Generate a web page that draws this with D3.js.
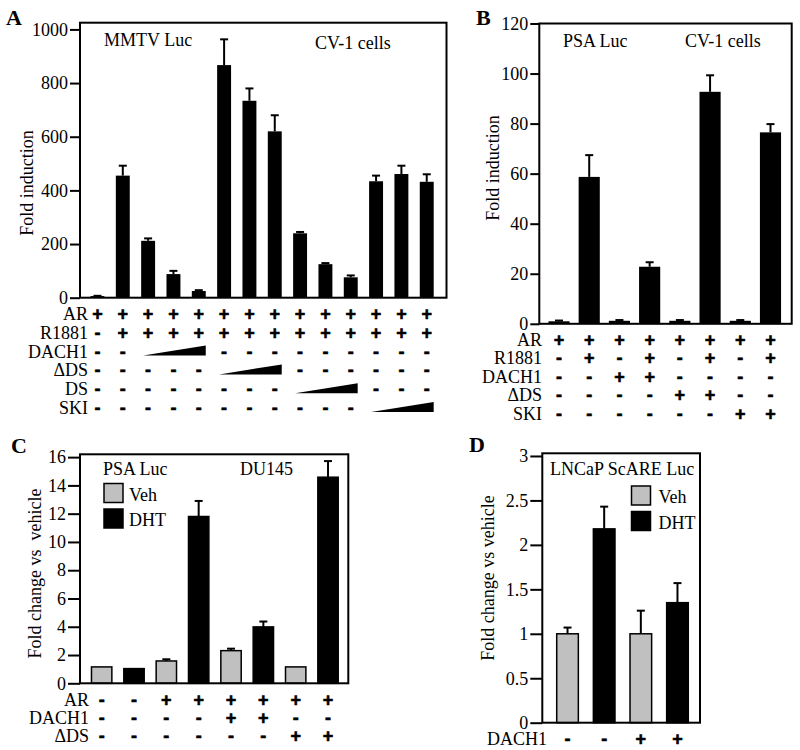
<!DOCTYPE html>
<html><head><meta charset="utf-8">
<script src="https://cdn.jsdelivr.net/npm/d3@7"></script>
<style>
body{margin:0;background:#fff;}
svg{display:block;}
text{font-family:"Liberation Serif","Times New Roman",serif;fill:#000;}
.sym{font-family:"Liberation Sans",Arial,sans-serif;font-weight:bold;stroke:#000;stroke-width:0.6px;}
</style></head>
<body>
<svg id="chart" width="800" height="750"></svg>
<script>
// ---------------- DATA ----------------
// Panel A: MMTV Luc, CV-1 cells
const A_categories = d3.range(1, 15).map(String);
const A_values = [6, 455, 212, 88, 25, 867, 734, 620, 240, 125, 76, 434, 461, 432];
const A_errors = [1, 37, 9, 12, 3, 96, 46, 60, 5, 4, 7, 21, 31, 28];
const A_ticks = [0, 200, 400, 600, 800, 1000];
const A_rowLabels = ["AR", "R1881", "DACH1", "\u0394DS", "DS", "SKI"];
const A_rows = [
  "++++++++++++++",
  "-+++++++++++++",
  "--www---------",
  "-----www------",
  "--------www---",
  "-----------www"
];
// Panel B: PSA Luc, CV-1 cells
const B_categories = d3.range(1, 9).map(String);
const B_values = [1.0, 58.7, 1.2, 22.8, 1.2, 92.7, 1.2, 76.5];
const B_errors = [0.3, 8.7, 0.3, 1.8, 0.3, 6.6, 0.3, 3.3];
const B_ticks = [0, 20, 40, 60, 80, 100, 120];
const B_rowLabels = ["AR", "R1881", "DACH1", "\u0394DS", "SKI"];
const B_rows = [
  "++++++++",
  "-+-+-+-+",
  "--++----",
  "----++--",
  "------++"
];
// Panel C: PSA Luc, DU145
const C_categories = d3.range(1, 9).map(String);
const C_series = ["Veh", "DHT", "Veh", "DHT", "Veh", "DHT", "Veh", "DHT"];
const C_values = [1.16, 1.04, 1.58, 11.8, 2.31, 3.99, 1.16, 14.58];
const C_errors = [0, 0, 0.12, 1.1, 0.14, 0.38, 0, 1.14];
const C_ticks = [0, 2, 4, 6, 8, 10, 12, 14, 16];
const C_rowLabels = ["AR", "DACH1", "\u0394DS"];
const C_rows = [
  "--++++++",
  "----++--",
  "------++"
];
// Panel D: LNCaP ScARE Luc
const D_categories = ["1", "2", "3", "4"];
const D_series = ["Veh", "DHT", "Veh", "DHT"];
const D_values = [1.0, 2.18, 1.0, 1.35];
const D_errors = [0.07, 0.25, 0.26, 0.22];
const D_ticks = [0, 0.5, 1, 1.5, 2, 2.5, 3];
const D_tickLabels = ["0", "0.5", "1", "1.5", "2", "2.5", "3"];
const D_rowLabels = ["DACH1"];
const D_rows = ["--++"];

const seriesNames = ["Veh", "DHT"];
const seriesColors = ["#c0c0c0", "#000000"];

// ---------------- DRAW ----------------
const svg = d3.select("#chart");
const color = d3.scaleOrdinal().domain(seriesNames).range(seriesColors);

function panel(cfg) {
  const g = svg.append("g");
  const y = d3.scaleLinear().domain([0, cfg.ymax]).range([cfg.bottom, cfg.top]);
  const x = d3.scaleBand().domain(cfg.categories).range(cfg.xRange)
    .paddingInner(cfg.pad).paddingOuter(cfg.pad / 2);
  const bw = x.bandwidth();
  const rows = cfg.values.map((v, i) => ({ cat: cfg.categories[i], v: v, e: cfg.errors[i], s: cfg.series ? cfg.series[i] : null }));

  // bars
  g.selectAll("rect.bar").data(rows).enter().append("rect")
    .attr("x", d => x(d.cat))
    .attr("y", d => y(d.v))
    .attr("width", bw)
    .attr("height", d => y(0) - y(d.v))
    .attr("fill", d => d.s ? color(d.s) : "#000")
    .attr("stroke", "#000")
    .attr("stroke-width", cfg.series ? 1.5 : 0);

  // error bars (upper only)
  const eg = g.selectAll("g.err").data(rows.filter(d => d.e > 0)).enter().append("g");
  eg.append("line")
    .attr("x1", d => x(d.cat) + bw / 2).attr("x2", d => x(d.cat) + bw / 2)
    .attr("y1", d => y(d.v)).attr("y2", d => y(d.v + d.e))
    .attr("stroke", "#000").attr("stroke-width", 2);
  eg.append("line")
    .attr("x1", d => x(d.cat) + bw / 2 - cfg.cap).attr("x2", d => x(d.cat) + bw / 2 + cfg.cap)
    .attr("y1", d => y(d.v + d.e)).attr("y2", d => y(d.v + d.e))
    .attr("stroke", "#000").attr("stroke-width", 2);

  // frame
  g.append("rect").attr("x", cfg.frameL).attr("y", cfg.top)
    .attr("width", cfg.frameR - cfg.frameL).attr("height", cfg.bottom - cfg.top)
    .attr("fill", "none").attr("stroke", "#000").attr("stroke-width", 2);

  // axis
  const axis = d3.axisLeft(y).tickValues(cfg.ticks).tickSize(cfg.tickSize).tickPadding(2)
    .tickFormat((d, i) => cfg.tickLabels ? cfg.tickLabels[i] : String(d));
  const ag = g.append("g").attr("transform", `translate(${cfg.frameL},0)`).call(axis);
  ag.select(".domain").remove();
  ag.selectAll(".tick line").attr("stroke", "#000").attr("stroke-width", 2);
  ag.selectAll(".tick text").attr("font-size", 18).attr("fill", "#000")
    .style("font-family", '"Liberation Serif","Times New Roman",serif');

  // y label
  g.append("text").attr("transform", `translate(${cfg.ylabX},${cfg.ylabY}) rotate(-90)`)
    .attr("text-anchor", "middle").attr("font-size", cfg.ylabSize || 18)
    .style("white-space", "pre").text(cfg.ylabel);

  // panel letter
  g.append("text").attr("x", cfg.letterX).attr("y", cfg.letterY)
    .attr("font-size", 22).attr("font-weight", "bold").text(cfg.letter);

  // annotation texts
  cfg.notes.forEach(n => g.append("text").attr("x", n[1]).attr("y", n[2])
    .attr("font-size", 18).text(n[0]));

  // condition rows
  cfg.rowLabels.forEach((lab, r) => {
    const base = cfg.rowY + r * cfg.rowStep;
    g.append("text").attr("x", cfg.rowLabelX).attr("y", base)
      .attr("text-anchor", "end").attr("font-size", 18).text(lab);
    const spec = cfg.rows[r];
    spec.split("").forEach((c, j) => {
      if (c === "w") return;
      g.append("text").attr("class", "sym")
        .attr("x", x(cfg.categories[j]) + bw / 2).attr("y", base)
        .attr("text-anchor", "middle").attr("font-size", 18).text(c);
    });
    const from = spec.indexOf("w"), to = spec.lastIndexOf("w");
    if (from >= 0) {
      const left = x(cfg.categories[from]) + 2;
      const right = x(cfg.categories[to]) + bw;
      g.append("polygon")
        .attr("points", [[left, base - 2], [right, base - 2], [right, base - 12]].map(p => p.join(",")).join(" "))
        .attr("fill", "#000");
    }
  });

  // legend
  if (cfg.legend) {
    seriesNames.forEach((s, i) => {
      const ly = cfg.legend.y + i * cfg.legend.step;
      g.append("rect").attr("x", cfg.legend.x).attr("y", ly)
        .attr("width", 19).attr("height", 19)
        .attr("fill", color(s)).attr("stroke", "#000").attr("stroke-width", 1.5);
      g.append("text").attr("x", cfg.legend.x + cfg.legend.tx).attr("y", ly + 17)
        .attr("font-size", 18).text(s);
    });
  }
}

panel({
  categories: A_categories, values: A_values, errors: A_errors, ticks: A_ticks,
  ymax: 1025, top: 22.7, bottom: 297.7, frameL: 80, frameR: 446.5,
  xRange: [84.8, 439.4], pad: 0.45, cap: 4, tickSize: 10,
  ylabel: "Fold induction", ylabX: 33, ylabY: 183,
  letter: "A", letterX: 6, letterY: 25,
  notes: [["MMTV Luc", 104, 45.5], ["CV-1 cells", 315, 48.5]],
  rowLabels: A_rowLabels, rows: A_rows, rowY: 320, rowStep: 18.8, rowLabelX: 88
});

panel({
  categories: B_categories, values: B_values, errors: B_errors, ticks: B_ticks,
  ymax: 120, top: 23.5, bottom: 323.8, frameL: 539.3, frameR: 791.7,
  xRange: [543.9, 785.6], pad: 0.3, cap: 4, tickSize: 9,
  ylabel: "Fold induction", ylabX: 499, ylabY: 168,
  letter: "B", letterX: 476, letterY: 25,
  notes: [["PSA Luc", 563, 46.5], ["CV-1 cells", 685, 46.5]],
  rowLabels: B_rowLabels, rows: B_rows, rowY: 345.5, rowStep: 18.5, rowLabelX: 542
});

panel({
  categories: C_categories, values: C_values, errors: C_errors, ticks: C_ticks, series: C_series,
  ymax: 16.2, top: 454.3, bottom: 683.3, frameL: 80, frameR: 348.3,
  xRange: [85.5, 344.2], pad: 0.37, cap: 4, tickSize: 12,
  ylabel: "Fold change vs  vehicle", ylabX: 41, ylabY: 573.5,
  letter: "C", letterX: 11, letterY: 453,
  notes: [["PSA Luc", 103, 475], ["DU145", 240, 475]],
  legend: { x: 104, y: 483.5, step: 25.5, tx: 25 },
  rowLabels: C_rowLabels, rows: C_rows, rowY: 705.5, rowStep: 18.3, rowLabelX: 89
});

panel({
  categories: D_categories, values: D_values, errors: D_errors, ticks: D_ticks, tickLabels: D_tickLabels, series: D_series,
  ymax: 3.03, top: 453.3, bottom: 722.7, frameL: 542.3, frameR: 700,
  xRange: [549.2, 695.8], pad: 0.41, cap: 4, tickSize: 12,
  ylabel: "Fold change vs vehicle", ylabX: 494, ylabY: 578,
  letter: "D", letterX: 469, letterY: 452,
  notes: [["LNCaP ScARE Luc", 550, 475]],
  legend: { x: 631.5, y: 486, step: 25.5, tx: 27 },
  rowLabels: D_rowLabels, rows: D_rows, rowY: 744.5, rowStep: 18, rowLabelX: 547
});
</script>
</body></html>
